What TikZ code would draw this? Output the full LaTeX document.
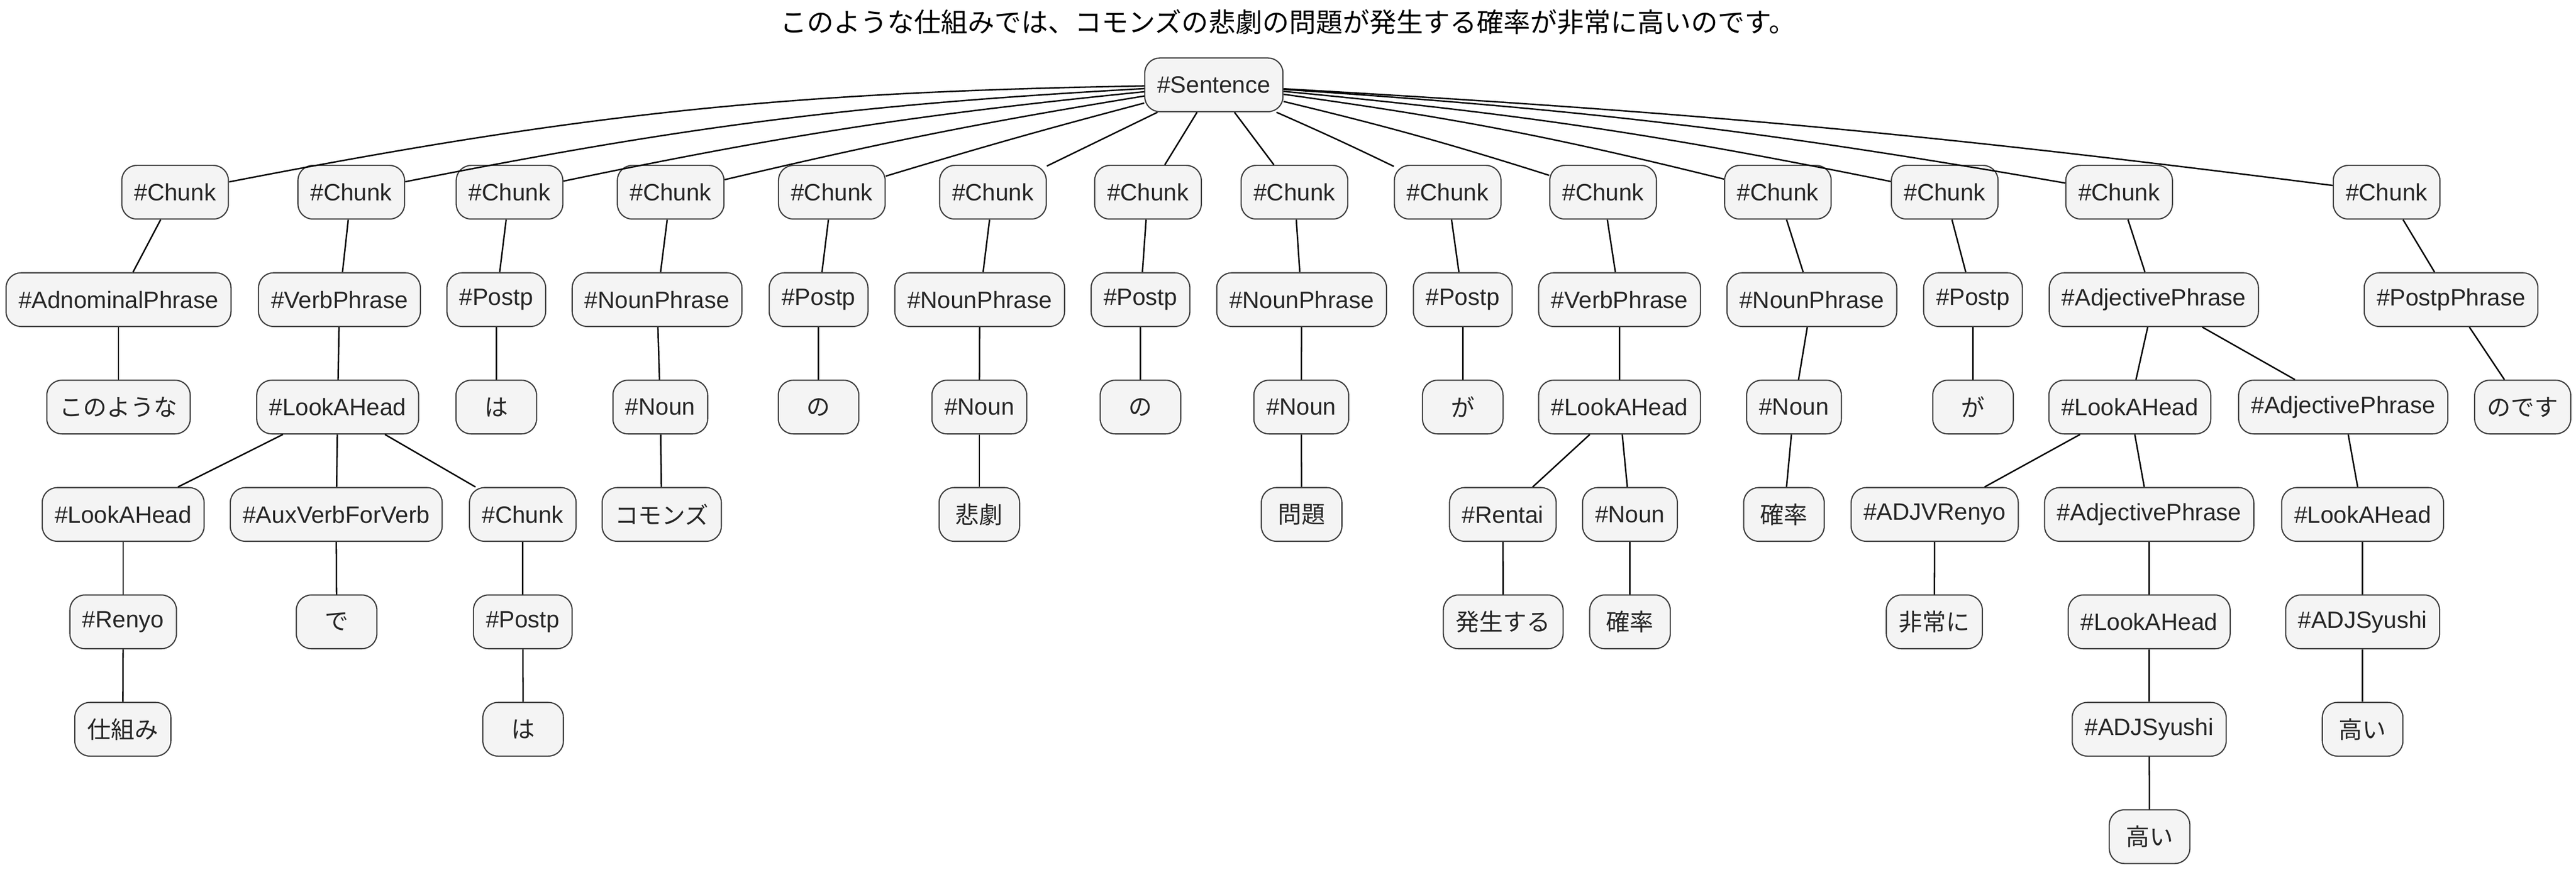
\documentclass[tikz,border=0pt]{standalone}
\usepackage{fontspec}
\usepackage{xcolor}
\setmainfont{Liberation Sans}
\newfontfamily\jp{Noto Sans CJK JP}
\usepackage{tikz}
\usetikzlibrary{arrows.meta, shapes}

\definecolor{boxgray}{HTML}{F4F4F4}
\definecolor{linegray}{HTML}{3C3C3C}
\definecolor{ink}{HTML}{262626}
\newcommand{\fs}{\fontsize{18.8}{22}\selectfont}

\begin{document}
\begin{tikzpicture}
\useasboundingbox (0,0) rectangle (71.94,-24.29);
\node[font=\jp\fontsize{21.3}{25}\selectfont] (title) at (35.97,-0.62) {このような仕組みでは、コモンズの悲劇の問題が発生する確率が非常に高いのです。};

\begin{scope}[every node/.style={draw=linegray, fill=boxgray, text=ink, rounded corners=0.42cm,
              line width=0.033cm, minimum height=1.5cm, minimum width=2.25cm, inner xsep=0.35cm, font=\fs},
              jw/.style={font=\jp\fs}]
  \node (S) at (33.90,-2.37) {\#Sentence};
  % chunks
  \node (c1) at (4.89,-5.37) {\#Chunk};
  \node (c2) at (9.81,-5.37) {\#Chunk};
  \node (c3) at (14.23,-5.37) {\#Chunk};
  \node (c4) at (18.73,-5.37) {\#Chunk};
  \node (c5) at (23.23,-5.37) {\#Chunk};
  \node (c6) at (27.73,-5.37) {\#Chunk};
  \node (c7) at (32.06,-5.37) {\#Chunk};
  \node (c8) at (36.15,-5.37) {\#Chunk};
  \node (c9) at (40.43,-5.37) {\#Chunk};
  \node (c10) at (44.77,-5.37) {\#Chunk};
  \node (c11) at (49.65,-5.37) {\#Chunk};
  \node (c12) at (54.31,-5.37) {\#Chunk};
  \node (c13) at (59.18,-5.37) {\#Chunk};
  \node (c14) at (66.65,-5.37) {\#Chunk};
  % phrases
  \node (adn1) at (3.31,-8.37) {\#AdnominalPhrase};
  \node (vp2) at (9.48,-8.37) {\#VerbPhrase};
  \node (pp3) at (13.86,-8.37) {\#Postp};
  \node (np4) at (18.35,-8.37) {\#NounPhrase};
  \node (pp5) at (22.86,-8.37) {\#Postp};
  \node (np6) at (27.36,-8.37) {\#NounPhrase};
  \node (pp7) at (31.85,-8.37) {\#Postp};
  \node (np8) at (36.35,-8.37) {\#NounPhrase};
  \node (pp9) at (40.85,-8.37) {\#Postp};
  \node (vp10) at (45.23,-8.37) {\#VerbPhrase};
  \node (np11) at (50.60,-8.37) {\#NounPhrase};
  \node (pp12) at (55.10,-8.37) {\#Postp};
  \node (adjp13) at (60.15,-8.37) {\#AdjectivePhrase};
  \node (ppp14) at (68.45,-8.37) {\#PostpPhrase};
  % third row
  \node[jw] (w1) at (3.31,-11.37) {このような};
  \node (la2) at (9.43,-11.37) {\#LookAHead};
  \node[jw] (w3) at (13.86,-11.37) {は};
  \node (n4) at (18.44,-11.37) {\#Noun};
  \node[jw] (w5) at (22.86,-11.37) {の};
  \node (n6) at (27.35,-11.37) {\#Noun};
  \node[jw] (w7) at (31.85,-11.37) {の};
  \node (n8) at (36.34,-11.37) {\#Noun};
  \node[jw] (w9) at (40.85,-11.37) {が};
  \node (la10) at (45.23,-11.37) {\#LookAHead};
  \node (n11) at (50.10,-11.37) {\#Noun};
  \node[jw] (w12) at (55.10,-11.37) {が};
  \node (la13) at (59.48,-11.37) {\#LookAHead};
  \node (adjp13b) at (65.44,-11.37) {\#AdjectivePhrase};
  \node[jw] (w14) at (70.45,-11.37) {のです};
  % fourth row
  \node (la2a) at (3.44,-14.37) {\#LookAHead};
  \node (aux2) at (9.39,-14.37) {\#AuxVerbForVerb};
  \node (c2b) at (14.60,-14.37) {\#Chunk};
  \node[jw] (w4) at (18.48,-14.37) {コモンズ};
  \node[jw] (w6) at (27.35,-14.37) {悲劇};
  \node[jw] (w8) at (36.35,-14.37) {問題};
  \node (rt10) at (41.97,-14.37) {\#Rentai};
  \node (n10) at (45.52,-14.37) {\#Noun};
  \node[jw] (w11) at (49.82,-14.37) {確率};
  \node (adjv13) at (54.03,-14.37) {\#ADJVRenyo};
  \node (adjp13c) at (60.02,-14.37) {\#AdjectivePhrase};
  \node (la13b) at (65.98,-14.37) {\#LookAHead};
  % fifth row
  \node (ry2) at (3.44,-17.37) {\#Renyo};
  \node[jw] (w2b) at (9.40,-17.37) {で};
  \node (pp2b) at (14.60,-17.37) {\#Postp};
  \node[jw] (w10a) at (41.98,-17.37) {発生する};
  \node[jw] (w10b) at (45.52,-17.37) {確率};
  \node[jw] (w13a) at (54.02,-17.37) {非常に};
  \node (la13c) at (60.02,-17.37) {\#LookAHead};
  \node (adjs13b) at (65.98,-17.37) {\#ADJSyushi};
  % sixth and seventh rows
  \node[jw] (w2a) at (3.43,-20.37) {仕組み};
  \node[jw] (w2c) at (14.61,-20.37) {は};
  \node (adjs13c) at (60.02,-20.37) {\#ADJSyushi};
  \node[jw] (w13b) at (65.98,-20.37) {高い};
  \node[jw] (w13c) at (60.03,-23.37) {高い};
\end{scope}

\begin{scope}[every edge/.style={draw=black, line width=0.04cm}]
    \path (S) edge[bend right=5] (c1);
    \path (S) edge[bend right=4] (c2);
    \path (S) edge[bend right=3] (c3);
    \path (S) edge[bend right=2] (c4);
    \path (S) edge[bend right=1] (c5);
    \path (S) edge (c6);
    \path (S) edge (c7);
    \path (S) edge (c8);
    \path (S) edge[bend left=1] (c9);
    \path (S) edge[bend left=2] (c10);
    \path (S) edge[bend left=3] (c11);
    \path (S) edge[bend left=3] (c12);
    \path (S) edge[bend left=3] (c13);
    \path (S) edge[bend left=2] (c14);

    \path (c1) edge (adn1);
    \path (adn1) edge (w1);
    \path (c2) edge (vp2);
    \path (vp2) edge (la2);
    \path (la2) edge (la2a);
    \path (la2) edge (aux2);
    \path (la2) edge (c2b);
    \path (la2a) edge (ry2);
    \path (ry2) edge (w2a);
    \path (aux2) edge (w2b);
    \path (c2b) edge (pp2b);
    \path (pp2b) edge (w2c);
    \path (c3) edge (pp3);
    \path (pp3) edge (w3);
    \path (c4) edge (np4);
    \path (np4) edge (n4);
    \path (n4) edge (w4);
    \path (c5) edge (pp5);
    \path (pp5) edge (w5);
    \path (c6) edge (np6);
    \path (np6) edge (n6);
    \path (n6) edge (w6);
    \path (c7) edge (pp7);
    \path (pp7) edge (w7);
    \path (c8) edge (np8);
    \path (np8) edge (n8);
    \path (n8) edge (w8);
    \path (c9) edge (pp9);
    \path (pp9) edge (w9);
    \path (c10) edge (vp10);
    \path (vp10) edge (la10);
    \path (la10) edge (rt10);
    \path (la10) edge (n10);
    \path (rt10) edge (w10a);
    \path (n10) edge (w10b);
    \path (c11) edge (np11);
    \path (np11) edge (n11);
    \path (n11) edge (w11);
    \path (c12) edge (pp12);
    \path (pp12) edge (w12);
    \path (c13) edge (adjp13);
    \path (adjp13) edge (la13);
    \path (adjp13) edge (adjp13b);
    \path (la13) edge (adjv13);
    \path (la13) edge (adjp13c);
    \path (adjv13) edge (w13a);
    \path (adjp13c) edge (la13c);
    \path (la13c) edge (adjs13c);
    \path (adjs13c) edge (w13c);
    \path (adjp13b) edge (la13b);
    \path (la13b) edge (adjs13b);
    \path (adjs13b) edge (w13b);
    \path (c14) edge (ppp14);
    \path (ppp14) edge (w14);
\end{scope}

\end{tikzpicture}
\end{document}
